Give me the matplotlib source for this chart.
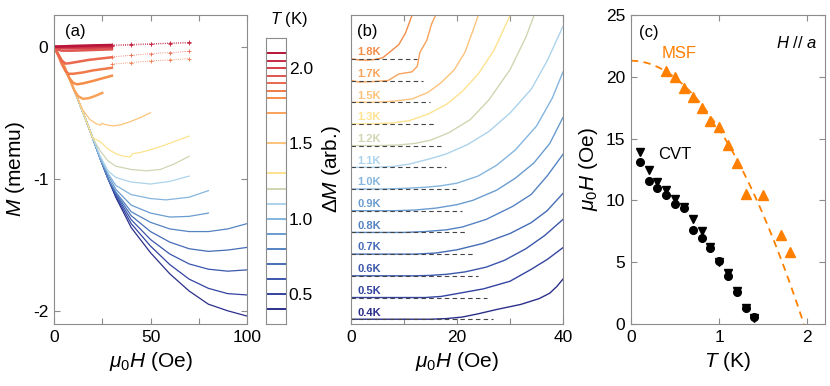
import numpy as np
import matplotlib.pyplot as plt

plt.rcParams['font.family'] = ['Liberation Sans', 'DejaVu Sans']
plt.rcParams['mathtext.fontset'] = 'custom'
plt.rcParams['mathtext.rm'] = 'Liberation Sans'
plt.rcParams['mathtext.it'] = 'Liberation Sans:italic'

# ---- panel (a): M vs H for each temperature ----
temps_a = [0.4, 0.5, 0.6, 0.7, 0.8, 0.9, 1.0, 1.1, 1.2, 1.3, 1.5, 1.7,
           1.8, 1.85, 1.9, 1.95, 2.0, 2.05, 2.1]
colors_a = ['#2b2f8a', '#3343a0', '#3b56ab', '#456cb6', '#5583c2', '#6a9ccf',
            '#84b5de', '#acd3ec', '#cfd6b2', '#fde38e', '#fdc37b', '#f9a25a',
            '#f58d48', '#ef7a4a', '#e9684e', '#df5550', '#d4404c', '#c72b44',
            '#b8153a']

env_h = [0, 4, 8, 12, 16, 20, 24, 28]
env_m = [0, -0.105, -0.24, -0.385, -0.535, -0.69, -0.85, -1.0]

h_a = [
    env_h + [32, 40, 50, 60, 70, 80, 90, 100],
    env_h + [32, 40, 50, 60, 70, 80, 90, 100],
    env_h + [32, 40, 50, 60, 70, 80, 90, 100],
    env_h + [32, 40, 50, 60, 70, 80, 90, 100],
    env_h + [32, 40, 50, 60, 70, 80, 90, 100],
    env_h[:7] + [28, 32, 40, 50, 60, 70, 80],
    env_h[:7] + [28, 32, 40, 50, 58, 70, 80],
    env_h[:6] + [24, 28, 32, 40, 50, 60, 70],
    env_h[:6] + [24, 28, 32, 40, 48, 55, 62, 70],
    env_h[:6] + [24, 28, 32, 36, 39.5, 40.5, 45, 50, 55, 62, 70],
    env_h[:4] + [15, 18.5, 22, 24.3, 24.8, 27, 30.7, 35, 40, 45, 50],
    env_h[:3] + [10.5, 12.5, 15, 18, 21, 25],
    [0, 3, 6, 8, 10, 12, 15, 20, 25, 30],
    [0, 2, 4, 6, 7.5, 10, 15, 20, 25, 30],
    [0, 2, 4, 6, 8, 12, 18, 24, 30],
    [0, 2, 4, 10, 20, 30],
    [0, 3, 10, 20, 30],
    [0, 10, 20, 30],
    [0, 10, 20, 30],
]
m_a = [
    env_m + [-1.14, -1.37, -1.56, -1.72, -1.85, -1.95, -2.0, -2.04],
    env_m + [-1.13, -1.34, -1.51, -1.65, -1.76, -1.83, -1.87, -1.88],
    env_m + [-1.12, -1.31, -1.46, -1.57, -1.645, -1.685, -1.70, -1.69],
    env_m + [-1.11, -1.28, -1.40, -1.48, -1.53, -1.55, -1.54, -1.52],
    env_m + [-1.10, -1.25, -1.33, -1.38, -1.40, -1.40, -1.38, -1.34],
    env_m[:7] + [-0.97, -1.08, -1.20, -1.26, -1.29, -1.285, -1.26],
    env_m[:7] + [-0.96, -1.05, -1.12, -1.15, -1.16, -1.14, -1.09],
    env_m[:6] + [-0.83, -0.94, -0.99, -1.025, -1.04, -1.02, -0.98],
    env_m[:6] + [-0.79, -0.865, -0.905, -0.93, -0.94, -0.93, -0.89, -0.83],
    env_m[:6] + [-0.72, -0.775, -0.81, -0.83, -0.835, -0.812, -0.80, -0.78,
                 -0.758, -0.72, -0.677],
    env_m[:4] + [-0.48, -0.55, -0.585, -0.594, -0.58, -0.592, -0.60, -0.59,
                 -0.565, -0.535, -0.50],
    env_m[:3] + [-0.33, -0.375, -0.395, -0.39, -0.375, -0.35],
    [0, -0.08, -0.18, -0.24, -0.275, -0.285, -0.278, -0.26, -0.24, -0.22],
    [0, -0.06, -0.13, -0.185, -0.205, -0.205, -0.195, -0.18, -0.17, -0.16],
    [0, -0.055, -0.105, -0.128, -0.125, -0.115, -0.10, -0.09, -0.08],
    [0, -0.022, -0.03, -0.03, -0.025, -0.02],
    [0, -0.01, -0.012, -0.008, -0.005],
    [0, 0.0, 0.003, 0.005],
    [0, 0.006, 0.01, 0.013],
]

# dotted high-field continuations (with + markers)
dot_temps = [2.1, 2.05, 1.9, 1.85]
dot_h = [30, 40, 50, 60, 70]
dot_m = [
    [0.013, 0.018, 0.023, 0.028, 0.032],
    [0.005, 0.012, 0.018, 0.024, 0.028],
    [-0.076, -0.066, -0.052, -0.045, -0.035],
    [-0.133, -0.12, -0.108, -0.10, -0.09],
]

# ---- panel (b): Delta M curves, offset by one unit each ----
temps_b = [0.4, 0.5, 0.6, 0.7, 0.8, 0.9, 1.0, 1.1, 1.2, 1.3, 1.5, 1.7, 1.8]
labels_b = ['0.4K', '0.5K', '0.6K', '0.7K', '0.8K', '0.9K', '1.0K', '1.1K',
            '1.2K', '1.3K', '1.5K', '1.7K', '1.8K']
h_b = [
    [0, 15, 18, 21, 24, 27.5, 32, 35.5, 37.5, 38.8, 40],
    [0, 14, 17, 20, 25, 30, 34, 37, 40],
    [0, 12, 15, 18, 21.5, 25.5, 29, 33, 36.5, 40],
    [0, 12, 16, 20, 25, 30, 34, 37, 40],
    [0, 10, 14, 18, 21, 25.5, 30.5, 34, 37, 40],
    [0, 8, 12, 16, 20, 23, 27.5, 31, 34.5, 37.5, 40],
    [0, 6, 10, 14, 17, 20, 24, 27.5, 31, 35, 38, 40],
    [0, 4, 8, 11, 15, 18, 22, 26, 30, 34, 37, 40],
    [0, 5, 9, 12, 15, 18.5, 22.5, 26, 30, 33, 35],
    [0, 4, 8, 11, 14.5, 18, 21, 24, 27, 30],
    [0, 5, 8, 11.5, 14.5, 17, 19.5, 21.5, 23, 24],
    [0, 1.5, 4, 7, 9, 11.5, 12.5, 13, 14.3, 15.2, 16.5],
    [0, 1.5, 3, 4.5, 6, 7.5, 9, 10.3, 11.5, 12],
]
dm_b = [
    [0, 0, 0.03, 0.1, 0.25, 0.45, 0.68, 0.95, 1.2, 1.5, 1.85],
    [0, 0, 0.05, 0.18, 0.4, 0.75, 1.3, 1.75, 2.3],
    [0, 0, 0.02, 0.07, 0.18, 0.4, 0.72, 1.25, 1.85, 2.6],
    [0, 0, 0.05, 0.2, 0.5, 0.95, 1.45, 2.0, 2.8],
    [0, 0, 0.04, 0.12, 0.25, 0.6, 1.2, 1.75, 2.6, 3.6],
    [0, 0, 0.03, 0.12, 0.28, 0.48, 0.95, 1.5, 2.2, 3.1, 4.3],
    [0, 0, 0.03, 0.08, 0.15, 0.27, 0.6, 1.1, 1.8, 2.9, 4.2, 5.4],
    [0, 0, 0.04, 0.15, 0.4, 0.62, 1.05, 1.65, 2.5, 3.6, 4.9, 6.5],
    [0, 0, 0.03, 0.1, 0.25, 0.6, 1.2, 2.1, 3.5, 5.0, 6.3],
    [0, 0, 0.05, 0.15, 0.45, 0.9, 1.5, 2.3, 3.4, 5.0],
    [0, 0, 0.05, 0.15, 0.45, 0.9, 1.5, 2.3, 3.3, 4.0],
    [0, -0.07, -0.05, 0, 0.3, 0.4, 0.65, 1.3, 1.85, 2.6, 3.3],
    [0, -0.05, -0.06, -0.03, 0.05, 0.35, 0.65, 1.2, 2.0, 2.3],
]
base_end_b = [26.8, 25.7, 23.9, 23.4, 21.8, 20.9, 19.8, 17.9, 17.3, 15.7,
              14.9, 13.6, 12.4]

# ---- panel (c): phase diagram ----
t_msf = [0.4, 0.5, 0.6, 0.7, 0.8, 0.9, 1.0, 1.1, 1.2, 1.3, 1.5, 1.7, 1.8]
h_msf = [20.5, 20.0, 19.1, 18.4, 17.5, 16.45, 15.9, 14.45, 13.0, 10.5, 10.4,
         7.2, 5.8]
t_cvt = [0.1, 0.2, 0.3, 0.4, 0.5, 0.6, 0.7, 0.8, 0.9, 1.0, 1.1, 1.2, 1.3, 1.4]
h_cvt_tri = [13.9, 12.5, 11.5, 10.85, 10.1, 9.45, 8.5, 7.55, 6.2, 5.0, 4.1,
             2.7, 1.3, 0.5]
h_cvt_dot = [13.1, 11.6, 11.0, 10.4, 9.7, 9.35, 7.6, 6.95, 6.15, 5.1, 3.9,
             2.6, 1.3, 0.6]
fit_h0 = 21.3   # MSF fit: H0 * (1 - (T/Tc)^2)
fit_tc = 1.96

orange = '#ff8000'
spine_c = '#8c8c8c'


def style(ax):
    for s in ax.spines.values():
        s.set_color(spine_c)
        s.set_linewidth(0.8)
    ax.tick_params(direction='in', top=True, right=True, color=spine_c,
                   labelsize=12.5, length=4, width=0.8, pad=4)


fig = plt.figure(figsize=(8.3, 3.86), dpi=100)
ax_a = fig.add_axes([54/830, 62/386, 193/830, 309/386])
cax = fig.add_axes([266/830, 62/386, 20/830, 286/386])
ax_b = fig.add_axes([351/830, 62/386, 212/830, 309/386])
ax_c = fig.add_axes([631/830, 62/386, 194/830, 309/386])

# (a)
for T, c, hh, mm in zip(temps_a, colors_a, h_a, m_a):
    ax_a.plot(hh, mm, color=c, lw=1.8 if T >= 1.7 else 0.9)
for T, mm in zip(dot_temps, dot_m):
    c = colors_a[temps_a.index(T)]
    ax_a.plot(dot_h, mm, color=c, lw=0.6, ls=':', marker='+', ms=2.5, mew=0.6)
ax_a.set_xlim(0, 100)
ax_a.set_ylim(-2.1, 0.24)
ax_a.set_xticks([0, 25, 50, 75, 100])
ax_a.set_xticklabels(['0', '', '50', '', '100'])
ax_a.set_yticks([-2, -1, 0])
ax_a.set_yticklabels(['-2', '-1', '0'])
style(ax_a)
ax_a.set_xlabel(r'$\mu_0H$ (Oe)', fontsize=15)
ax_a.set_ylabel(r'$M$ (memu)', fontsize=15)
ax_a.text(0.057, 0.948, '(a)', transform=ax_a.transAxes, fontsize=12,
          va='center')

# colorbar made of lines
for T, c in zip(temps_a, colors_a):
    cax.axhline(T, color=c, lw=1.4)
cax.set_xlim(0, 1)
cax.set_ylim(0.3, 2.2)
cax.set_xticks([])
cax.yaxis.tick_right()
cax.set_yticks([0.5, 1.0, 1.5, 2.0])
cax.set_yticklabels(['0.5', '1.0', '1.5', '2.0'])
for s in cax.spines.values():
    s.set_color(spine_c)
    s.set_linewidth(0.8)
cax.tick_params(axis='y', direction='in', color=spine_c, labelsize=12.5,
                length=3, pad=2)
cax.text(1.15, 1.063, r'$T$ (K)', transform=cax.transAxes, fontsize=12,
         ha='center', va='center')

# (b)
for i, (T, lab, hh, dd, he) in enumerate(zip(temps_b, labels_b, h_b, dm_b,
                                             base_end_b)):
    c = colors_a[temps_a.index(T)]
    ax_b.plot(hh, [i + d for d in dd], color=c, lw=1.0)
    ax_b.plot([0, he], [i, i], color='#444444', lw=0.8, ls=(0, (4, 3)))
    ax_b.text(1.2, i + 0.17, lab, color=c, fontsize=8, fontweight='bold',
              ha='left', va='baseline')
ax_b.set_xlim(0, 40)
ax_b.set_ylim(-0.22, 14.02)
ax_b.set_xticks([0, 10, 20, 30, 40])
ax_b.set_xticklabels(['0', '', '20', '', '40'])
ax_b.set_yticks([])
style(ax_b)
ax_b.set_xlabel(r'$\mu_0H$ (Oe)', fontsize=15)
ax_b.set_ylabel(r'$\Delta M$ (arb.)', fontsize=15, labelpad=6)
ax_b.text(0.027, 0.947, '(b)', transform=ax_b.transAxes, fontsize=12,
          va='center')

# (c)
tt = np.linspace(0, fit_tc, 100)
ax_c.plot(tt, fit_h0 * (1 - (tt / fit_tc) ** 2), color=orange, lw=1.3,
          ls=(0, (4, 3)))
ax_c.plot(t_msf, h_msf, ls='none', marker='^', color=orange, ms=6.5)
ax_c.plot(t_cvt, h_cvt_tri, ls='none', marker='v', color='k', ms=6)
ax_c.plot(t_cvt, h_cvt_dot, ls='none', marker='o', color='k', ms=5.5)
ax_c.set_xlim(0, 2.2)
ax_c.set_ylim(0, 25)
ax_c.set_xticks([0, 1, 2])
ax_c.set_yticks([0, 5, 10, 15, 20, 25])
style(ax_c)
ax_c.set_xlabel(r'$T$ (K)', fontsize=15)
ax_c.set_ylabel(r'$\mu_0H$ (Oe)', fontsize=15)
ax_c.text(0.04, 0.942, '(c)', transform=ax_c.transAxes, fontsize=12,
          va='center')
ax_c.text(0.96, 0.91, r'$H$ // $a$', transform=ax_c.transAxes, fontsize=12,
          ha='right', va='center')
ax_c.text(0.35, 21.9, 'MSF', color=orange, fontsize=12, va='center')
ax_c.text(0.31, 13.75, 'CVT', color='k', fontsize=12, va='center')

fig.savefig('out.png', dpi=100)
